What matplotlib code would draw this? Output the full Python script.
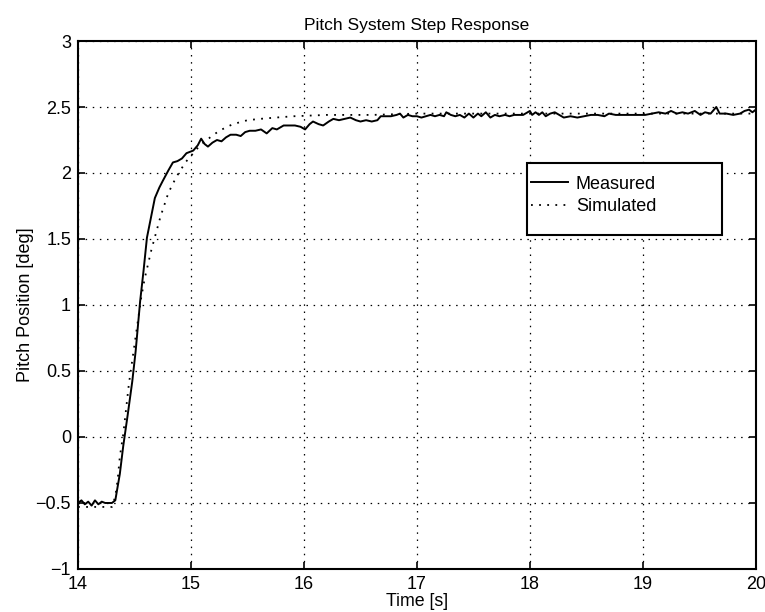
import matplotlib
matplotlib.use("Agg")
import matplotlib.pyplot as plt
from matplotlib.patches import Rectangle

plt.rcParams['font.family'] = ['Liberation Sans', 'DejaVu Sans']

# Measured pitch response (time [s], position [deg])
t_meas = [14.00, 14.03, 14.06, 14.09, 14.12, 14.15, 14.18, 14.21, 14.24, 14.27,
          14.30, 14.33, 14.37, 14.40, 14.44, 14.48, 14.51, 14.55, 14.58, 14.61,
          14.64, 14.68, 14.72, 14.75, 14.80, 14.84, 14.88, 14.92, 14.96, 15.02,
          15.06, 15.09, 15.12, 15.15, 15.19, 15.23, 15.27, 15.31, 15.35, 15.40,
          15.44, 15.48, 15.52, 15.57, 15.62, 15.67, 15.72, 15.76, 15.82, 15.87,
          15.92, 15.97, 16.01, 16.05, 16.08, 16.13, 16.17, 16.22, 16.26, 16.31,
          16.36, 16.41, 16.46, 16.50, 16.55, 16.60, 16.65, 16.68, 16.72, 16.77,
          16.82, 16.85, 16.88, 16.92, 16.96, 17.00, 17.04, 17.08, 17.12, 17.16,
          17.20, 17.24, 17.26, 17.30, 17.34, 17.38, 17.42, 17.46, 17.50, 17.54,
          17.57, 17.61, 17.65, 17.69, 17.73, 17.78, 17.82, 17.86, 17.90, 17.94,
          17.98, 18.00, 18.02, 18.05, 18.08, 18.11, 18.14, 18.18, 18.22, 18.26,
          18.30, 18.36, 18.42, 18.48, 18.54, 18.60, 18.66, 18.70, 18.76, 18.82,
          18.90, 18.96, 19.02, 19.08, 19.14, 19.20, 19.25, 19.30, 19.35, 19.40,
          19.46, 19.51, 19.55, 19.60, 19.65, 19.68, 19.74, 19.80, 19.86, 19.90,
          19.94, 19.97, 20.00]
y_meas = [-0.50, -0.48, -0.51, -0.49, -0.52, -0.48, -0.51, -0.49, -0.50, -0.50,
          -0.50, -0.48, -0.28, -0.07, 0.17, 0.42, 0.65, 1.03, 1.26, 1.51,
          1.64, 1.81, 1.89, 1.94, 2.02, 2.08, 2.09, 2.11, 2.15, 2.17,
          2.21, 2.26, 2.22, 2.20, 2.23, 2.25, 2.24, 2.27, 2.29, 2.29,
          2.28, 2.31, 2.32, 2.32, 2.33, 2.30, 2.34, 2.33, 2.36, 2.36,
          2.36, 2.35, 2.33, 2.37, 2.39, 2.37, 2.36, 2.39, 2.41, 2.40,
          2.41, 2.42, 2.40, 2.39, 2.40, 2.39, 2.40, 2.43, 2.43, 2.43,
          2.44, 2.45, 2.42, 2.44, 2.43, 2.43, 2.42, 2.43, 2.44, 2.43,
          2.44, 2.43, 2.46, 2.44, 2.43, 2.44, 2.42, 2.45, 2.42, 2.45,
          2.43, 2.46, 2.42, 2.44, 2.43, 2.44, 2.43, 2.44, 2.44, 2.44,
          2.46, 2.47, 2.44, 2.46, 2.44, 2.46, 2.43, 2.45, 2.46, 2.44,
          2.42, 2.43, 2.42, 2.43, 2.44, 2.44, 2.43, 2.45, 2.44, 2.44,
          2.44, 2.44, 2.44, 2.45, 2.46, 2.45, 2.47, 2.45, 2.46, 2.45,
          2.47, 2.44, 2.46, 2.45, 2.50, 2.45, 2.45, 2.44, 2.45, 2.47,
          2.48, 2.46, 2.48]

# Simulated model response
t_sim = [14.00, 14.30, 14.33, 14.35, 14.37, 14.40, 14.42, 14.45, 14.48, 14.52,
         14.56, 14.59, 14.65, 14.73, 14.80, 14.87, 14.95, 15.02, 15.08, 15.17,
         15.25, 15.37, 15.50, 15.61, 15.75, 15.91, 16.20, 16.60, 17.00, 18.00,
         19.00, 20.00]
y_sim = [-0.53, -0.53, -0.45, -0.33, -0.15, 0.02, 0.17, 0.40, 0.58, 0.82,
         1.06, 1.20, 1.42, 1.67, 1.85, 1.97, 2.08, 2.15, 2.21, 2.27,
         2.32, 2.37, 2.40, 2.41, 2.42, 2.43, 2.44, 2.44, 2.45, 2.45,
         2.45, 2.45]

x_ticks = [14, 15, 16, 17, 18, 19, 20]
y_ticks = [-1, -0.5, 0, 0.5, 1, 1.5, 2, 2.5, 3]
y_tick_labels = ['\u22121', '\u22120.5', '0', '0.5', '1', '1.5', '2', '2.5', '3']

fig = plt.figure(figsize=(7.65, 6.12), dpi=100)
ax = fig.add_axes([0.102, 0.0703, 0.886, 0.8627])

ax.plot(t_meas, y_meas, color='black', lw=1.4, label='Measured', zorder=3)
ax.plot(t_sim, y_sim, color='black', lw=1.3, linestyle=(0, (1, 3.5)),
        label='Simulated', zorder=3)

ax.set_xlim(14, 20)
ax.set_ylim(-1, 3)
ax.set_xticks(x_ticks)
ax.set_yticks(y_ticks)
ax.set_yticklabels(y_tick_labels)
ax.tick_params(direction='in', length=5, width=1.2, top=True, right=True,
               labelsize=13, pad=5, colors='black')
ax.grid(True, color='black', linestyle=(0, (1.2, 4.5)), lw=0.9)
for s in ax.spines.values():
    s.set_linewidth(1.5)

ax.set_title('Pitch System Step Response', fontsize=12.5, pad=8)
ax.set_xlabel('Time [s]', fontsize=12.8, labelpad=0)
ax.set_ylabel('Pitch Position [deg]', fontsize=13, labelpad=1)

# Legend box
box = Rectangle((0.662, 0.633), 0.288, 0.136, transform=ax.transAxes,
                facecolor='white', edgecolor='black', lw=1.5, zorder=5)
ax.add_patch(box)
leg = ax.legend(loc='upper left', bbox_to_anchor=(0.669, 0.745),
                frameon=False, fontsize=13, handlelength=2.0,
                handletextpad=0.45, labelspacing=0.3, borderpad=0,
                borderaxespad=0)
leg.set_zorder(6)

fig.savefig('out.png', dpi=100)
